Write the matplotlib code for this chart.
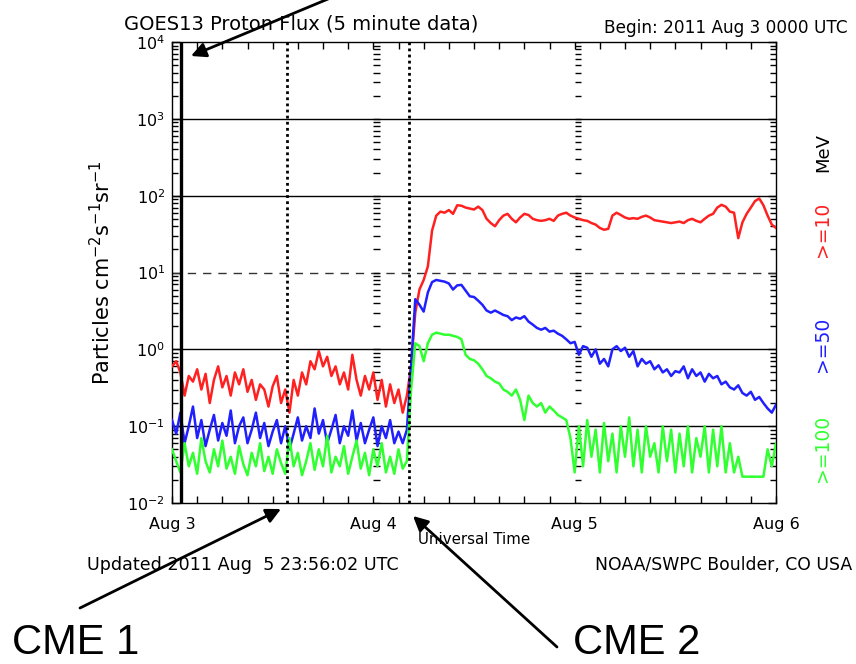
#!/usr/bin/env python3
"""GOES13 proton flux, 2011 Aug 3-6, with the two CME markers."""

from __future__ import annotations

import matplotlib

matplotlib.use("Agg")
import matplotlib.pyplot as plt
import numpy as np
from matplotlib.ticker import FixedLocator, LogLocator, NullFormatter

# hours since 2011 Aug 3 0000 UTC, one sample every 30 minutes
STEP_HOURS = 0.5

flux_ge10 = [
    0.6, 0.7, 0.5, 0.25, 0.45, 0.38, 0.55, 0.3, 0.48, 0.2, 0.4, 0.6,
    0.32, 0.45, 0.25, 0.5, 0.35, 0.55, 0.28, 0.4, 0.22, 0.35, 0.3, 0.18,
    0.33, 0.45, 0.2, 0.3, 0.15, 0.4, 0.25, 0.5, 0.35, 0.7, 0.55, 0.95,
    0.6, 0.8, 0.45, 0.6, 0.35, 0.5, 0.3, 0.85, 0.4, 0.25, 0.45, 0.3,
    0.5, 0.22, 0.4, 0.18, 0.35, 0.2, 0.3, 0.15, 0.25, 0.6, 3.0, 6.0,
    8.0, 12.0, 35.0, 55.0, 62.0, 60.0, 65.0, 58.0, 75.0, 74.0, 70.0, 68.0,
    66.0, 72.0, 65.0, 50.0, 44.0, 40.0, 48.0, 55.0, 58.0, 50.0, 45.0, 52.0,
    58.0, 56.0, 50.0, 48.0, 47.0, 48.0, 50.0, 47.0, 55.0, 58.0, 60.0, 55.0,
    52.0, 50.0, 48.0, 47.0, 44.0, 42.0, 38.0, 36.0, 37.0, 55.0, 60.0, 56.0,
    52.0, 50.0, 51.0, 50.0, 53.0, 55.0, 52.0, 48.0, 47.0, 46.0, 45.0, 44.0,
    45.0, 46.0, 44.0, 48.0, 50.0, 47.0, 45.0, 50.0, 55.0, 58.0, 70.0, 76.0,
    72.0, 62.0, 60.0, 28.0, 45.0, 58.0, 70.0, 85.0, 92.0, 75.0, 55.0, 42.0,
    38.0,
]
flux_ge50 = [
    0.12, 0.08, 0.15, 0.06, 0.1, 0.18, 0.07, 0.12, 0.055, 0.09, 0.14, 0.065,
    0.11, 0.075, 0.16, 0.06, 0.1, 0.13, 0.06, 0.09, 0.15, 0.07, 0.11, 0.055,
    0.085, 0.12, 0.06, 0.1, 0.05, 0.08, 0.13, 0.065, 0.1, 0.07, 0.17, 0.08,
    0.12, 0.06, 0.09, 0.14, 0.06, 0.1, 0.075, 0.16, 0.065, 0.11, 0.06, 0.09,
    0.13, 0.055, 0.1, 0.07, 0.12, 0.06, 0.085, 0.06, 0.09, 0.6, 4.5, 3.8,
    3.1, 5.5, 7.5, 8.0, 7.8, 7.6, 7.2, 6.0, 6.8, 6.9, 5.8, 4.9,
    4.8, 4.3, 3.8, 3.2, 3.0, 3.2, 3.0, 2.8, 2.7, 2.4, 2.6, 2.5,
    2.7, 2.3, 2.1, 1.9, 1.8, 1.9, 1.7, 1.75, 1.6, 1.5, 1.35, 1.2,
    1.25, 0.85, 1.1, 1.05, 0.8, 1.0, 0.65, 0.75, 0.6, 1.0, 1.1, 0.95,
    1.05, 0.8, 0.95, 0.6, 0.75, 0.65, 0.7, 0.55, 0.62, 0.5, 0.55, 0.45,
    0.52, 0.5, 0.6, 0.42, 0.55, 0.45, 0.5, 0.38, 0.48, 0.42, 0.45, 0.35,
    0.38, 0.32, 0.3, 0.34, 0.27, 0.25, 0.28, 0.22, 0.24, 0.2, 0.17, 0.15,
    0.19,
]
flux_ge100 = [
    0.05, 0.035, 0.025, 0.06, 0.03, 0.045, 0.024, 0.07, 0.035, 0.025, 0.05, 0.03,
    0.065, 0.028, 0.04, 0.024, 0.055, 0.032, 0.023, 0.045, 0.03, 0.06, 0.026, 0.04,
    0.024, 0.05, 0.033, 0.024, 0.07, 0.03, 0.045, 0.023, 0.035, 0.06, 0.027, 0.05,
    0.03, 0.075, 0.025, 0.04, 0.03, 0.055, 0.024, 0.04, 0.065, 0.028, 0.045, 0.023,
    0.05, 0.03, 0.06, 0.025, 0.04, 0.024, 0.05, 0.028, 0.035, 0.3, 1.2, 1.1,
    0.7, 1.2, 1.55, 1.65, 1.6, 1.55, 1.55, 1.5, 1.45, 1.35, 0.85, 0.75,
    0.72, 0.65, 0.55, 0.45, 0.42, 0.38, 0.36, 0.3, 0.28, 0.25, 0.3, 0.22,
    0.12, 0.25, 0.2, 0.18, 0.2, 0.15, 0.18, 0.16, 0.14, 0.13, 0.12, 0.07,
    0.025, 0.1, 0.03, 0.12, 0.04, 0.09, 0.025, 0.11, 0.035, 0.08, 0.025, 0.1,
    0.04, 0.13, 0.03, 0.09, 0.025, 0.1, 0.04, 0.06, 0.025, 0.1, 0.035, 0.09,
    0.025, 0.08, 0.03, 0.1, 0.025, 0.07, 0.04, 0.1, 0.025, 0.09, 0.03, 0.1,
    0.025, 0.06, 0.025, 0.04, 0.022, 0.022, 0.022, 0.022, 0.022, 0.022, 0.05, 0.03,
    0.06,
]

series_labels = [">=10", ">=50", ">=100"]
series_colors = ["#ff2020", "#2020ff", "#30ff30"]

day_ticks = [0, 24, 48, 72]
day_labels = ["Aug 3", "Aug 4", "Aug 5", "Aug 6"]

event_line_hour = 1.1          # solid marker near start of Aug 3
cme_hours = [13.7, 28.3]       # dotted CME markers
solid_levels = [1e3, 1e2, 1e0, 1e-1]
dashed_levels = [1e1]


def px(x: float, y: float) -> tuple[float, float]:
    """Image pixel (from top-left) to figure pixels (from bottom-left)."""
    return x, 664 - y


def main() -> int:
    plt.rcParams["font.family"] = ["DejaVu Sans"]
    plt.rcParams["mathtext.fontset"] = "dejavusans"

    fig = plt.figure(figsize=(8.56, 6.64), dpi=100)
    ax = fig.add_axes([172 / 856, 1 - 503 / 664, 604 / 856, 461 / 664])

    for values, color in zip((flux_ge10, flux_ge50, flux_ge100), series_colors):
        values = np.asarray(values, dtype=float)
        hours = np.arange(values.size) * STEP_HOURS
        ax.plot(hours, values, color=color, linewidth=1.8, zorder=3)

    for level in solid_levels:
        ax.axhline(level, color="black", linewidth=1.0, zorder=2)
    for level in dashed_levels:
        ax.axhline(level, color="#333333", linewidth=1.0, linestyle=(0, (6, 5)), zorder=2)

    ax.axvline(event_line_hour, color="black", linewidth=2.4, zorder=4)
    for hour in cme_hours:
        ax.axvline(hour, color="black", linewidth=2.0, linestyle=(0, (1, 1.2)), zorder=4)

    # IDL-style inner log ticks at each day boundary
    tick_levels = [k * 10.0**d for d in range(-2, 4) for k in range(1, 10)] + [1e4]
    for day in day_ticks[1:3]:
        ax.hlines(tick_levels, day, day + 0.75, color="black", linewidth=1.0, zorder=2)

    ax.set_yscale("log")
    ax.set_ylim(1e-2, 1e4)
    ax.set_xlim(0, 72)

    ax.xaxis.set_major_locator(FixedLocator(day_ticks))
    ax.xaxis.set_minor_locator(FixedLocator(np.arange(0, 73, 3)))
    ax.set_xticklabels(day_labels)
    ax.yaxis.set_minor_locator(LogLocator(base=10, subs=np.arange(2, 10), numticks=20))
    ax.yaxis.set_minor_formatter(NullFormatter())
    ax.set_yticks([1e-2, 1e-1, 1e0, 1e1, 1e2, 1e3, 1e4])
    ax.set_yticklabels([f"$10^{{{p}}}$" for p in range(-2, 5)])

    ax.tick_params(axis="x", which="both", direction="in", top=True, bottom=True,
                   length=5, width=1, labelsize=11.5, pad=10)
    ax.tick_params(axis="y", which="major", direction="in", left=True, right=True,
                   length=6, width=1, labelsize=11.5, pad=5)
    ax.tick_params(axis="y", which="minor", direction="in", left=True, right=True,
                   length=4, width=1)
    for spine in ax.spines.values():
        spine.set_linewidth(1.0)
        spine.set_color("black")

    ax.set_xlabel("Universal Time", fontsize=10.8, labelpad=0)
    ax.set_ylabel(r"Particles cm$^{-2}$s$^{-1}$sr$^{-1}$", fontsize=15, labelpad=9)

    fig.text(124 / 856, 1 - 29 / 664, "GOES13 Proton Flux (5 minute data)",
             fontsize=14, ha="left", va="baseline")
    fig.text(848 / 856, 1 - 33 / 664, "Begin: 2011 Aug 3 0000 UTC",
             fontsize=12.2, ha="right", va="baseline")
    fig.text(87 / 856, 1 - 570 / 664, "Updated 2011 Aug  5 23:56:02 UTC",
             fontsize=12.6, ha="left", va="baseline")
    fig.text(852 / 856, 1 - 570 / 664, "NOAA/SWPC Boulder, CO USA",
             fontsize=12.4, ha="right", va="baseline")

    fig.text(823 / 856, 1 - 152 / 664, "MeV", rotation=90, fontsize=13,
             ha="center", va="center", color="black")
    for label, color, y in zip(series_labels, series_colors, (229, 344, 448)):
        fig.text(823 / 856, 1 - y / 664, label, rotation=90, fontsize=13.5,
                 ha="center", va="center", color=color)

    big = dict(fontsize=30, family=["Liberation Sans", "DejaVu Sans"], ha="left",
               va="bottom")
    fig.text(12 / 856, 1 / 664, "CME 1", **big)
    fig.text(573 / 856, 1 / 664, "CME 2", **big)

    arrow = dict(arrowstyle="-|>", color="black", linewidth=2.0, mutation_scale=22,
                 shrinkA=0, shrinkB=0)
    for start, tip in (((340, -6), (191, 56)), ((80, 608), (281, 509)), ((557, 647), (413, 516))):
        ax.annotate("", xy=px(*tip), xytext=px(*start), xycoords="figure pixels",
                    textcoords="figure pixels", arrowprops=arrow, annotation_clip=False)

    fig.savefig("out.png", dpi=100)
    plt.close(fig)
    return 0


if __name__ == "__main__":
    raise SystemExit(main())
